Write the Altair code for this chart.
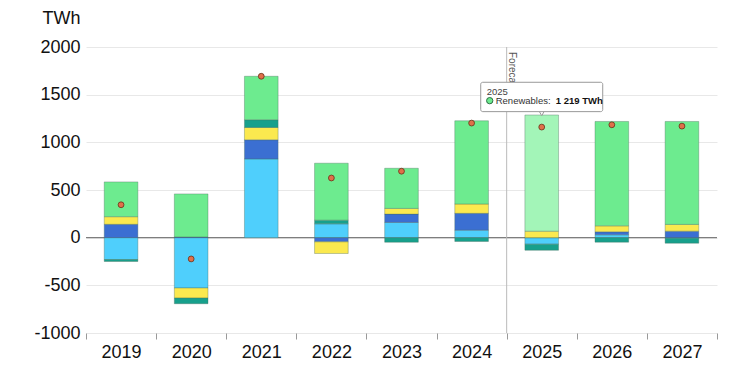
import altair as alt
import pandas as pd

years = ["2019", "2020", "2021", "2022", "2023", "2024", "2025", "2026", "2027"]
series_names = ["Coal", "Natural gas", "Nuclear", "Other", "Renewables"]
coal = [-230, -528, 826, 145, 160, 79, -68, 30, -5]
gas = [140, 8, 200, -44, 87, 176, 0, 31, 68]
nuclear = [80, -106, 130, -122, 60, 98, 68, 63, 71]
other = [-20, -59, 81, 39, -48, -40, -64, -47, -53]
renewables = [365, 451, 456, 597, 421, 873, 1219, 1095, 1080]
total = [345, -223, 1693, 626, 697, 1202, 1160, 1184, 1170]
colors = ["#4fcffc", "#3b6fd2", "#fbe94f", "#17a08c", "#6deb8f"]

FONT = "Liberation Sans"

rows = []
for i, y in enumerate(years):
    for k, (name, vals) in enumerate(zip(series_names, [coal, gas, nuclear, other, renewables])):
        rows.append({"year": y, "series": name, "value": vals[i], "order": k,
                     "hl": (y == "2025" and name == "Renewables")})
df = pd.DataFrame(rows)
tot_df = pd.DataFrame({"year": years, "total": total})

x_axis = alt.Axis(title=None, labelAngle=0, labelFontSize=18, labelFont=FONT,
                  labelColor="#111", domain=False, ticks=True, tickColor="#999",
                  tickSize=6, tickBand="extent", labelPadding=4, grid=False)
x_enc = alt.X("year:N", sort=years, scale=alt.Scale(paddingInner=0, paddingOuter=0),
              axis=x_axis)

y_scale = alt.Scale(domain=[-1000, 2000], nice=False)

bars = alt.Chart(df).mark_bar(width=alt.RelativeBandSize(0.48), stroke="#4a6a5a",
                              strokeWidth=0.6, strokeOpacity=0.6).encode(
    x=x_enc,
    y=alt.Y("value:Q", stack="zero", scale=y_scale,
            axis=alt.Axis(values=[-1000, -500, 0, 500, 1000, 1500, 2000],
                          labelExpr="'' + datum.value",
                          labelFontSize=18, labelFont=FONT, labelColor="#111",
                          ticks=False, domain=False, labelPadding=6,
                          gridColor="#e8e8e8", title="TWh", titleAngle=0,
                          titleAlign="right", titleBaseline="middle", titleX=-6,
                          titleY=-29, titleFontSize=18, titleFont=FONT,
                          titleFontWeight="normal", titleColor="#111")),
    color=alt.condition("datum.hl", alt.value("#a3f5b8"),
                        alt.Color("series:N", scale=alt.Scale(domain=series_names, range=colors),
                                  legend=None)),
    order=alt.Order("order:Q"),
)

zero = alt.Chart(pd.DataFrame({"v": [0]})).mark_rule(color="#666", strokeWidth=1).encode(
    y=alt.Y("v:Q", scale=y_scale))

dots = alt.Chart(tot_df).mark_circle(size=34, color="#e0704a", stroke="#6a3018",
                                     strokeWidth=0.8, opacity=1).encode(
    x=alt.X("year:N", sort=years), y=alt.Y("total:Q", scale=y_scale))

ann = pd.DataFrame({"year": ["2025"]})
base_ann = alt.Chart(ann)

fc_rule = base_ann.mark_rule(color="#bbbbbb", strokeWidth=1).encode(
    x=alt.X("year:N", sort=years, bandPosition=0),
    y=alt.Y(datum=2000, scale=y_scale), y2=alt.Y2(datum=-1000))

fc_text = base_ann.mark_text(text="Forecast", angle=90, align="left", baseline="bottom",
                             fontSize=10, font=FONT, color="#555").encode(
    x=alt.X("year:N", sort=years, bandPosition=0),
    y=alt.Y(datum=1948, scale=y_scale))

tip_ptr = base_ann.mark_point(shape="triangle-down", size=45, filled=True, fill="white",
                              stroke="#999", strokeWidth=1, opacity=1).encode(
    x=alt.X("year:N", sort=years), y=alt.Y(datum=1310, scale=y_scale))

tip_box = base_ann.mark_bar(width=122, fill="white", stroke="#999", strokeWidth=1,
                            cornerRadius=2).encode(
    x=alt.X("year:N", sort=years),
    y=alt.Y(datum=1630, scale=y_scale), y2=alt.Y2(datum=1322))

tip_year = base_ann.mark_text(text="2025", align="left", baseline="middle", dx=-55,
                              fontSize=9.5, font=FONT, color="#444").encode(
    x=alt.X("year:N", sort=years), y=alt.Y(datum=1528, scale=y_scale))

tip_dot = base_ann.mark_circle(size=40, color="#6deb8f", stroke="#2f6e45", strokeWidth=1,
                               opacity=1, xOffset=-52).encode(
    x=alt.X("year:N", sort=years), y=alt.Y(datum=1437, scale=y_scale))

tip_lab = base_ann.mark_text(text="Renewables:", align="left", baseline="middle", dx=-46,
                             fontSize=9.5, font=FONT, color="#333").encode(
    x=alt.X("year:N", sort=years), y=alt.Y(datum=1437, scale=y_scale))

tip_val = base_ann.mark_text(text="1 219 TWh", align="left", baseline="middle", dx=14,
                             fontSize=9.5, font=FONT, fontWeight="bold", color="#111").encode(
    x=alt.X("year:N", sort=years), y=alt.Y(datum=1437, scale=y_scale))

chart = alt.layer(zero, bars, dots, fc_rule, fc_text, tip_ptr, tip_box, tip_year, tip_dot,
                  tip_lab, tip_val).properties(
    width=631, height=286,
    autosize=alt.AutoSizeParams(type="none"),
    padding={"left": 78, "top": 39, "right": 10, "bottom": 30},
).configure(
    background="white",
    view=alt.ViewConfig(stroke="transparent", strokeWidth=0),
    axisX=alt.AxisConfig(grid=False, domain=False),
)

chart.save("out.html", embed_options={"renderer": "svg", "actions": False})
